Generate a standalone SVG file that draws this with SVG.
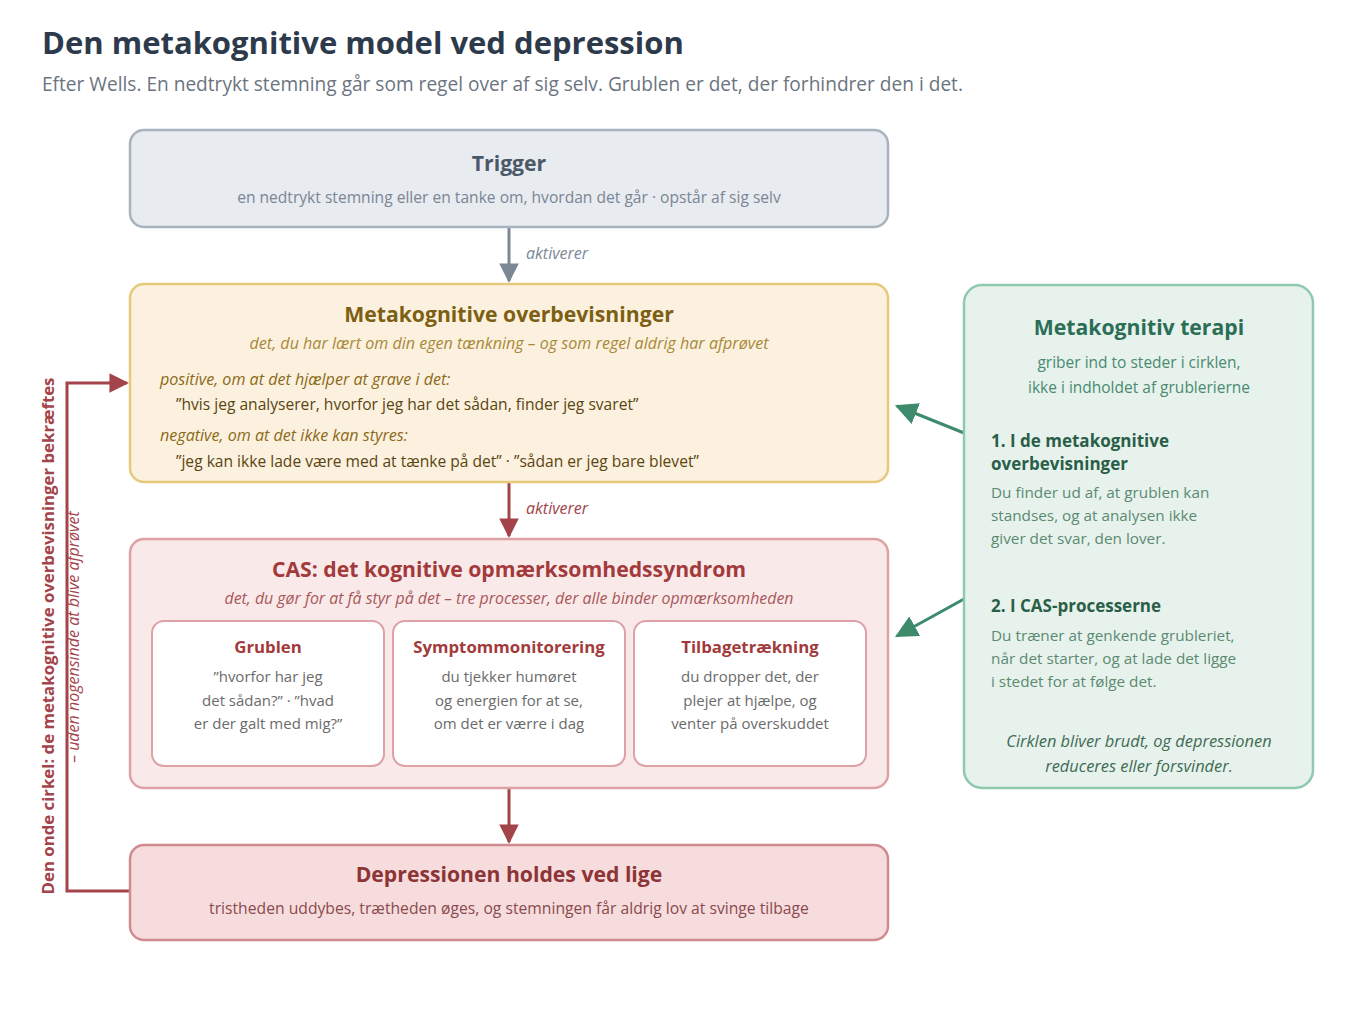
<svg xmlns="http://www.w3.org/2000/svg" width="1354" height="1029" viewBox="0 0 1354 1029">
<defs>
<style>
text{font-family:"Open Sans","Noto Sans","Liberation Sans",sans-serif;}
.c{text-anchor:middle;}
.h1{font-size:31px;font-weight:700;fill:#2c3a4b;}
.sub{font-size:19.1px;fill:#6b7480;}
.nt{font-size:21.2px;font-weight:700;}
.ns{font-size:15.6px;}
.it{font-style:italic;}
.lbl{font-size:16px;font-style:italic;}
.it2{font-size:16.1px;font-style:italic;}
.in{font-size:15px;}
.bd{font-size:15.3px;}
</style>
<marker id="ag" viewBox="0 0 10 10" refX="9" refY="5" markerWidth="7" markerHeight="6.5" markerUnits="strokeWidth" orient="auto"><path d="M0,0L10,5L0,10z" fill="#7b8795"/></marker>
<marker id="ar" viewBox="0 0 10 10" refX="9" refY="5" markerWidth="7" markerHeight="6.5" markerUnits="strokeWidth" orient="auto"><path d="M0,0L10,5L0,10z" fill="#a3434a"/></marker>
<marker id="agr" viewBox="0 0 10 10" refX="9" refY="5" markerWidth="7.5" markerHeight="7.5" markerUnits="strokeWidth" orient="auto"><path d="M0,0L10,5L0,10z" fill="#3d8a6c"/></marker>
</defs>
<rect width="1354" height="1029" fill="#ffffff"/>
<text x="42" y="54" class="h1">Den metakognitive model ved depression</text>
<text x="42" y="91" class="sub">Efter Wells. En nedtrykt stemning går som regel over af sig selv. Grublen er det, der forhindrer den i det.</text>

<g id="connectors" fill="none" stroke-width="3">
<line x1="509" y1="228" x2="509" y2="281" stroke="#7b8795" marker-end="url(#ag)"/>
<line x1="509" y1="483" x2="509" y2="536" stroke="#a3434a" marker-end="url(#ar)"/>
<line x1="509" y1="789" x2="509" y2="842" stroke="#a3434a" marker-end="url(#ar)"/>
<polyline points="130,891 67,891 67,383 127,383" stroke="#a3434a" marker-end="url(#ar)"/>
<line x1="964" y1="433" x2="897" y2="406" stroke="#3d8a6c" marker-end="url(#agr)"/>
<line x1="964" y1="599" x2="897" y2="636" stroke="#3d8a6c" marker-end="url(#agr)"/>
<text x="526" y="259" class="lbl" fill="#7b8795" stroke="none">aktiverer</text>
<text x="526" y="514" class="lbl" fill="#a3434a" stroke="none">aktiverer</text>
</g>

<g id="loop-label">
<text transform="translate(54,636) rotate(-90)" class="c" font-size="16.8" font-weight="700" fill="#a3434a">Den onde cirkel: de metakognitive overbevisninger bekræftes</text>
<text transform="translate(79,637) rotate(-90)" class="c it" font-size="16" fill="#a3434a">– uden nogensinde at blive afprøvet</text>
</g>

<g id="trigger">
<rect x="130" y="130" width="758" height="97" rx="14" fill="#e8ebf0" stroke="#a9b3be" stroke-width="2.5"/>
<text x="509" y="171" class="c nt" font-size="21.4" fill="#4a5868">Trigger</text>
<text x="509" y="203" class="c ns" fill="#7a8694">en nedtrykt stemning eller en tanke om, hvordan det går · opstår af sig selv</text>
</g>

<g id="beliefs">
<rect x="130" y="284" width="758" height="198" rx="14" fill="#fcf1de" stroke="#e5c97c" stroke-width="2.5"/>
<text x="509" y="322" class="c nt" fill="#7d5f14">Metakognitive overbevisninger</text>
<text x="509" y="349" class="c it2" fill="#a8893a">det, du har lært om din egen tænkning – og som regel aldrig har afprøvet</text>
<text x="160" y="385" class="it2" fill="#8b6a1a">positive, om at det hjælper at grave i det:</text>
<text x="176" y="410" class="ns" fill="#5a4512">”hvis jeg analyserer, hvorfor jeg har det sådan, finder jeg svaret”</text>
<text x="160" y="441" class="it2" fill="#8b6a1a">negative, om at det ikke kan styres:</text>
<text x="176" y="467" class="ns" fill="#5a4512">”jeg kan ikke lade være med at tænke på det” · ”sådan er jeg bare blevet”</text>
</g>

<g id="cas">
<rect x="130" y="539" width="758" height="249" rx="14" fill="#fae9e9" stroke="#dda2a6" stroke-width="2.5"/>
<text x="509" y="577" class="c nt" fill="#a23a3c">CAS: det kognitive opmærksomhedssyndrom</text>
<text x="509" y="604" class="c it" font-size="15.9" fill="#a8585c">det, du gør for at få styr på det – tre processer, der alle binder opmærksomheden</text>
</g>
<g id="grublen">
<rect x="152" y="621" width="232" height="145" rx="12" fill="#ffffff" stroke="#dda2a6" stroke-width="2"/>
<text x="268" y="653" class="c" font-size="16.8" font-weight="700" fill="#a23a3c">Grublen</text>
<text x="268" y="682" class="c in" fill="#6b6b6b">”hvorfor har jeg</text>
<text x="268" y="706" class="c in" fill="#6b6b6b">det sådan?” · ”hvad</text>
<text x="268" y="729" class="c in" fill="#6b6b6b">er der galt med mig?”</text>
</g>
<g id="symptom">
<rect x="393" y="621" width="232" height="145" rx="12" fill="#ffffff" stroke="#dda2a6" stroke-width="2"/>
<text x="509" y="653" class="c" font-size="16.8" font-weight="700" fill="#a23a3c">Symptommonitorering</text>
<text x="509" y="682" class="c in" fill="#6b6b6b">du tjekker humøret</text>
<text x="509" y="706" class="c in" fill="#6b6b6b">og energien for at se,</text>
<text x="509" y="729" class="c in" fill="#6b6b6b">om det er værre i dag</text>
</g>
<g id="tilbage">
<rect x="634" y="621" width="232" height="145" rx="12" fill="#ffffff" stroke="#dda2a6" stroke-width="2"/>
<text x="750" y="653" class="c" font-size="16.8" font-weight="700" fill="#a23a3c">Tilbagetrækning</text>
<text x="750" y="682" class="c in" fill="#6b6b6b">du dropper det, der</text>
<text x="750" y="706" class="c in" fill="#6b6b6b">plejer at hjælpe, og</text>
<text x="750" y="729" class="c in" fill="#6b6b6b">venter på overskuddet</text>
</g>

<g id="depression">
<rect x="130" y="845" width="758" height="95" rx="14" fill="#f6dcdd" stroke="#d08b90" stroke-width="2.5"/>
<text x="509" y="882" class="c nt" font-size="21.4" fill="#8c3436">Depressionen holdes ved lige</text>
<text x="509" y="914" class="c" font-size="15.7" fill="#8a4a4e">tristheden uddybes, trætheden øges, og stemningen får aldrig lov at svinge tilbage</text>
</g>

<g id="therapy">
<rect x="964" y="285" width="349" height="503" rx="18" fill="#e7f2ec" stroke="#8fc9ae" stroke-width="2.5"/>
<text x="1139" y="335" class="c nt" fill="#2a6e56">Metakognitiv terapi</text>
<text x="1139" y="368" class="c" font-size="15.5" fill="#4a8a72">griber ind to steder i cirklen,</text>
<text x="1139" y="393" class="c" font-size="15.5" fill="#4a8a72">ikke i indholdet af grublerierne</text>
<text x="991" y="447" font-size="17" font-weight="700" fill="#2a5e48">1. I de metakognitive</text>
<text x="991" y="470" font-size="17" font-weight="700" fill="#2a5e48">overbevisninger</text>
<text x="991" y="498" class="bd" fill="#5b8a72">Du finder ud af, at grublen kan</text>
<text x="991" y="521" class="bd" fill="#5b8a72">standses, og at analysen ikke</text>
<text x="991" y="544" class="bd" fill="#5b8a72">giver det svar, den lover.</text>
<text x="991" y="612" font-size="17" font-weight="700" fill="#2a5e48">2. I CAS-processerne</text>
<text x="991" y="641" class="bd" fill="#5b8a72">Du træner at genkende grubleriet,</text>
<text x="991" y="664" class="bd" fill="#5b8a72">når det starter, og at lade det ligge</text>
<text x="991" y="687" class="bd" fill="#5b8a72">i stedet for at følge det.</text>
<text x="1139" y="747" class="c it" font-size="16.4" fill="#3f6b55">Cirklen bliver brudt, og depressionen</text>
<text x="1139" y="772" class="c it" font-size="16.4" fill="#3f6b55">reduceres eller forsvinder.</text>
</g>
</svg>
